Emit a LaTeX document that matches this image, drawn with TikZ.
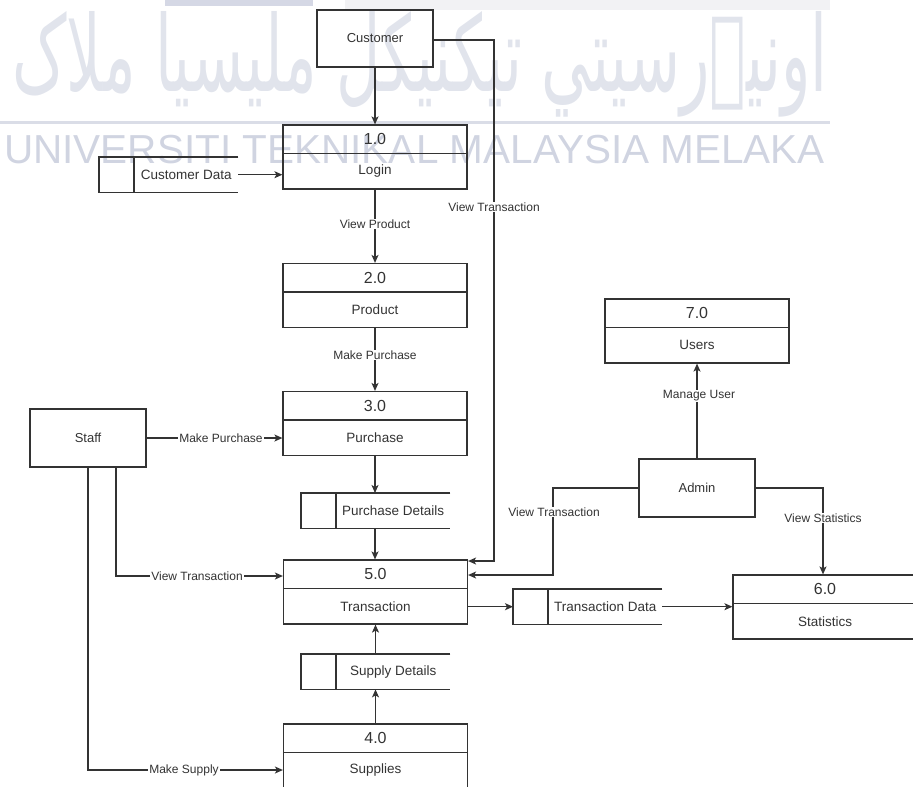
\documentclass[tikz,border=0pt]{standalone}
\usepackage{fontspec}
\setmainfont{Liberation Sans}
\newfontfamily\arabicfont[Script=Arabic]{DejaVu Sans}
\TeXXeTstate=1
\usetikzlibrary{arrows.meta}
\definecolor{ink}{HTML}{333333}
\definecolor{wm}{HTML}{D0D4E1}
\definecolor{wmjawic}{HTML}{E1E4EC}
\definecolor{wmline}{HTML}{DADDE7}
\definecolor{wmband}{HTML}{D5D8E5}
\definecolor{wmlight}{HTML}{F2F2F4}
\tikzset{
  ln/.style={draw=ink, line width=1.2pt},
  arr/.style={ln, -{Stealth[length=8pt,width=7pt,inset=2pt]}},
  pbox/.style={draw=ink, line width=1.2pt, rectangle, minimum width=184pt, minimum height=64pt, inner sep=0pt},
  ebox/.style={draw=ink, line width=1.2pt, rectangle, minimum width=116pt, minimum height=58pt, inner sep=0pt, font=\fontsize{13}{15}\selectfont, text=ink},
  numtxt/.style={font=\fontsize{16}{18}\selectfont, text=ink, inner sep=0pt},
  labtxt/.style={font=\fontsize{13.5}{15}\selectfont, text=ink, inner sep=0pt},
  elab/.style={font=\fontsize{12}{14}\selectfont, text=ink, fill=white, inner sep=1pt},
  storebox/.style={rectangle, minimum height=35pt, inner sep=0pt},
}
\newcommand{\dfdproc}[5]{%
  \node[pbox] (#1) at (#2,#3) {};
  \draw[ln] ([yshift=-29pt]#1.north west) -- ([yshift=-29pt]#1.north east);
  \node[numtxt] (#1n) at ([yshift=-15pt]#1.north) {#4};
  \node[labtxt] (#1l) at ([yshift=-47pt]#1.north) {#5};
}
\newcommand{\dfdstore}[5]{%
  \node[storebox, minimum width=#4pt, anchor=north west] (#1) at (#2,#3) {};
  \draw[ln] (#1.north east) -- (#1.north west) -- (#1.south west) -- (#1.south east);
  \draw[ln] ([xshift=35pt]#1.north west) -- ([xshift=35pt]#1.south west);
  \node[labtxt] (#1t) at ([xshift=17.5pt]#1.center) {#5};
}
\begin{document}
\begin{tikzpicture}[x=1pt,y=-1pt]
\useasboundingbox (0,0) rectangle (913,787);
% watermark
\fill[wmband] (165,0) rectangle (313,6);
\fill[wmlight] (345,0) rectangle (830,10);
\node[inner sep=0pt, text=wmjawic] (wmjawi) at (420,64) {\resizebox{815pt}{80pt}{\arabicfont\beginR اونيۏرسيتي تيکنيکل مليسيا ملاک\endR}};
\draw[wmline, line width=3pt] (0,122) -- (830,122);
\node[inner sep=0pt, text=wm, anchor=base west, font=\fontsize{40.5}{44}\selectfont] (wmtext) at (4,163) {UNIVERSITI TEKNIKAL MALAYSIA MELAKA};
% entities
\node[ebox, minimum height=57pt] (customer) at (375,38.5) {Customer};
\node[ebox] (staff) at (88,438) {Staff};
\node[ebox] (admin) at (697,488) {Admin};
% processes
\dfdproc{login}{375}{157}{1.0}{Login}
\dfdproc{product}{375}{295.5}{2.0}{Product}
\dfdproc{purchase}{375}{423.5}{3.0}{Purchase}
\dfdproc{transaction}{375.5}{592}{5.0}{Transaction}
\dfdproc{supplies}{375.5}{756}{4.0}{Supplies}
\dfdproc{users}{697}{331}{7.0}{Users}
\dfdproc{statistics}{825}{607}{6.0}{Statistics}
% stores
\dfdstore{cdata}{99}{157}{139}{Customer Data}
\dfdstore{pdet}{301}{493}{149}{Purchase Details}
\dfdstore{sdet}{301}{654}{149}{Supply Details}
\dfdstore{tdata}{513}{589}{149}{Transaction Data}
% connectors
\draw[arr] (customer.south) -- (customer.south |- login.north);
\coordinate (c1) at (494,40);
\coordinate (c2) at (494,561);
\draw[arr] (customer.east |- c1) -- (c1) -- (c2) -- (c2 -| transaction.east);
\node[elab] (lvt1) at (494,207) {View Transaction};
\draw[arr] (cdata.east) -- (cdata.east -| login.west);
\draw[arr] (login.south) -- (product.north);
\node[elab] (lvp) at (375,224) {View Product};
\draw[arr] (product.south) -- (purchase.north);
\node[elab] (lmp1) at (375,355) {Make Purchase};
\draw[arr] (staff.east) -- (staff.east -| purchase.west);
\node[elab] (lmp2) at (221,438) {Make Purchase};
\draw[arr] (purchase.south) -- (purchase.south |- pdet.north);
\draw[arr] (purchase.south |- pdet.south) -- (purchase.south |- transaction.north);
\coordinate (s1) at (116,576);
\draw[arr] (staff.south -| s1) -- (s1) -- (s1 -| transaction.west);
\node[elab] (lvt2) at (197,576) {View Transaction};
\coordinate (s2) at (88,770);
\draw[arr] (staff.south -| s2) -- (s2) -- (s2 -| supplies.west);
\node[elab] (lms) at (184,770) {Make Supply};
\draw[arr] (tdata.west -| transaction.east) -- (tdata.west);
\draw[arr] (tdata.east) -- (tdata.east -| statistics.west);
\draw[arr] (admin.north) -- (users.south);
\node[elab] (lmu) at (699,396) {Manage User};
\coordinate (a1) at (553,488);
\coordinate (a2) at (553,575);
\draw[arr] (admin.west) -- (a1) -- (a2) -- (a2 -| transaction.east);
\node[elab] (lvt3) at (554,512) {View Transaction};
\coordinate (a3) at (823,488);
\draw[arr] (admin.east) -- (a3) -- (a3 |- statistics.north);
\node[elab] (lvs) at (823,518) {View Statistics};
\draw[arr] (supplies.north) -- (supplies.north |- sdet.south);
\draw[arr] (transaction.south |- sdet.north) -- (transaction.south);
\end{tikzpicture}
\end{document}
